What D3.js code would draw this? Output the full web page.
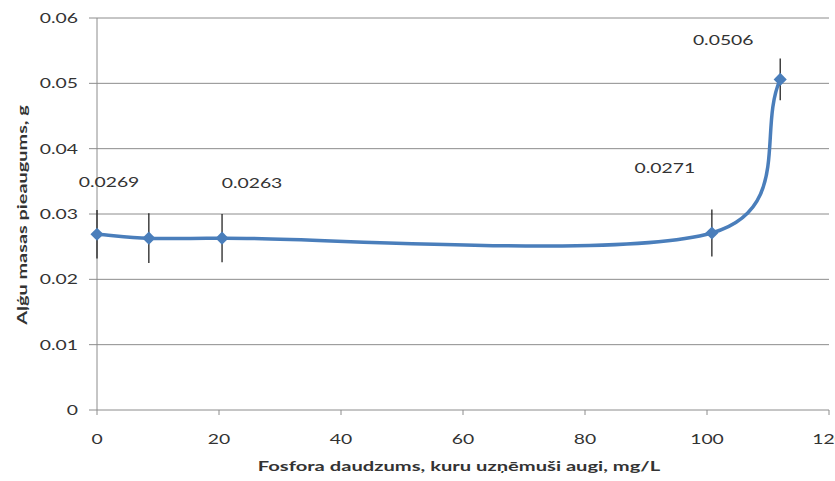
<!DOCTYPE html>
<html>
<head>
<meta charset="utf-8">
<script src="https://cdn.jsdelivr.net/npm/d3@7"></script>
<style>
body { margin: 0; background: #fff; }
text { font-family: Lato, "Open Sans", sans-serif; }
</style>
</head>
<body>
<script>
var width = 835, height = 481;

// data
var xValues = [0, 8.5, 20.5, 100.8, 112];
var yValues = [0.0269, 0.0263, 0.0263, 0.0271, 0.0506];
var yErrors = [0.0037, 0.0038, 0.0037, 0.0036, 0.0032];
var labels = ["0.0269", "", "0.0263", "0.0271", "0.0506"];
var xTicks = [0, 20, 40, 60, 80, 100, 120];
var yTicks = [0, 0.01, 0.02, 0.03, 0.04, 0.05, 0.06];

// label offsets in px (where the labels were moved by hand)
var labelDx = [12, 0, 30, -47, -57];
var labelDy = [-47, 0, -50, -60, -34];

// the picture is stretched sideways, so text is too
var sx = 1.38;

var svg = d3.select("body").append("svg").attr("width", width).attr("height", height);

var x = d3.scaleLinear().domain([0, 120]).range([97, 829]);
var y = d3.scaleLinear().domain([0, 0.06]).range([410, 18]);

function place(px, py) {
  return "translate(" + px + "," + py + ") scale(" + sx + ",1)";
}

// excel-like smoothed line: bezier with 1/6 neighbour tangents,
// handle length kept under half the segment
function smooth(p) {
  var n = p.length, t = [];
  for (var i = 0; i < n; i++) {
    var a = p[Math.max(i - 1, 0)], b = p[Math.min(i + 1, n - 1)];
    var k = (i == 0 || i == n - 1) ? 1 / 3 : 1 / 6;
    t.push([(b[0] - a[0]) * k, (b[1] - a[1]) * k]);
  }
  function clamp(v, len) {
    var m = Math.hypot(v[0], v[1]);
    var f = m > len / 2 ? len / 2 / m : 1;
    return [v[0] * f, v[1] * f];
  }
  var path = d3.path();
  path.moveTo(p[0][0], p[0][1]);
  for (var i = 0; i < n - 1; i++) {
    var len = Math.hypot(p[i + 1][0] - p[i][0], p[i + 1][1] - p[i][1]);
    var t1 = clamp(t[i], len), t2 = clamp(t[i + 1], len);
    path.bezierCurveTo(p[i][0] + t1[0], p[i][1] + t1[1],
      p[i + 1][0] - t2[0], p[i + 1][1] - t2[1], p[i + 1][0], p[i + 1][1]);
  }
  return path.toString();
}

// horizontal grid
svg.selectAll(".grid")
  .data(yTicks)
  .enter()
  .append("line")
  .attr("x1", 89)
  .attr("x2", 829)
  .attr("y1", d => y(d))
  .attr("y2", d => y(d))
  .attr("stroke", "#8c8c8c")
  .attr("stroke-width", 1);

// y axis line
svg.append("line")
  .attr("x1", x(0)).attr("x2", x(0))
  .attr("y1", y(0.06)).attr("y2", y(0))
  .attr("stroke", "#8c8c8c");

// x ticks
svg.selectAll(".xt")
  .data(xTicks)
  .enter()
  .append("line")
  .attr("x1", d => x(d)).attr("x2", d => x(d))
  .attr("y1", y(0)).attr("y2", y(0) + 5)
  .attr("stroke", "#8c8c8c");

svg.selectAll(".xl")
  .data(xTicks)
  .enter()
  .append("text")
  .attr("transform", d => place(x(d), 444))
  .attr("text-anchor", "middle")
  .attr("font-size", 14)
  .attr("fill", "#333")
  .text(d => d);

svg.selectAll(".yl")
  .data(yTicks)
  .enter()
  .append("text")
  .attr("transform", d => place(78, y(d) + 5))
  .attr("text-anchor", "end")
  .attr("font-size", 14)
  .attr("fill", "#333")
  .text(d => d);

// axis titles
svg.append("text")
  .attr("transform", "translate(459,471) scale(1.44,1)")
  .attr("text-anchor", "middle")
  .attr("font-size", 14)
  .attr("font-weight", "bold")
  .attr("fill", "#333")
  .text("Fosfora daudzums, kuru uzņēmuši augi, mg/L");

svg.append("text")
  .attr("transform", "translate(27,215) rotate(-90) scale(1.42,1)")
  .attr("text-anchor", "middle")
  .attr("font-size", 14)
  .attr("font-weight", "bold")
  .attr("fill", "#333")
  .text("Aļģu masas pieaugums, g");

var pts = xValues.map((d, i) => [d, yValues[i]]);

// smooth line
svg.append("path")
  .attr("d", smooth(pts.map(d => [x(d[0]), y(d[1])])))
  .attr("fill", "none")
  .attr("stroke", "#4a7ebb")
  .attr("stroke-width", 3.5);

// error bars
svg.selectAll(".err")
  .data(pts)
  .enter()
  .append("line")
  .attr("x1", d => x(d[0])).attr("x2", d => x(d[0]))
  .attr("y1", (d, i) => y(d[1] + yErrors[i]))
  .attr("y2", (d, i) => y(d[1] - yErrors[i]))
  .attr("stroke", "#111")
  .attr("stroke-width", 1.2);

// markers
svg.selectAll(".mk")
  .data(pts)
  .enter()
  .append("path")
  .attr("d", d3.symbol().type(d3.symbolDiamond2).size(110))
  .attr("transform", d => "translate(" + x(d[0]) + "," + y(d[1]) + ")")
  .attr("fill", "#4a7ebb");

// data labels
svg.selectAll(".dl")
  .data(pts)
  .enter()
  .append("text")
  .attr("transform", (d, i) => place(x(d[0]) + labelDx[i], y(d[1]) + labelDy[i]))
  .attr("text-anchor", "middle")
  .attr("font-size", 14)
  .attr("fill", "#333")
  .text((d, i) => labels[i]);
</script>
</body>
</html>
